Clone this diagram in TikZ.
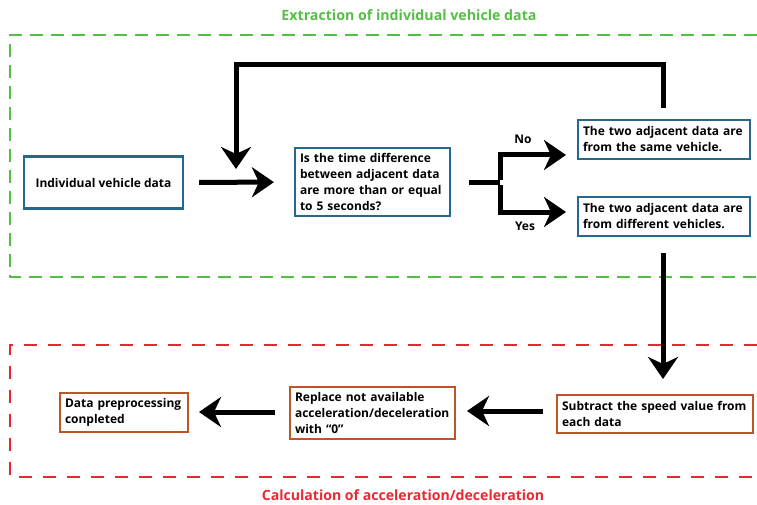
\documentclass[tikz,border=0pt]{standalone}
\usepackage{fontspec}
\setmainfont{Open Sans}
\usetikzlibrary{arrows.meta}
\definecolor{boxblue}{RGB}{35,105,140}
\definecolor{boxorange}{RGB}{190,85,40}
\definecolor{grn}{RGB}{85,190,70}
\definecolor{rd}{RGB}{235,40,50}
\tikzset{
  bbox/.style={draw=boxblue, line width=2.2pt, fill=white, font=\bfseries\fontsize{12}{16}\selectfont, inner sep=5pt},
  obox/.style={draw=boxorange, line width=2.2pt, fill=white, font=\bfseries\fontsize{12}{16}\selectfont, inner sep=5pt},
  arr/.style={line width=5pt, -{Stealth[length=22pt,width=30pt,inset=7pt]}},
  thick line/.style={line width=5pt},
  lbl/.style={font=\bfseries\fontsize{12}{14}\selectfont},
}
\begin{document}
\begin{tikzpicture}[x=1pt,y=-1pt]
\useasboundingbox (0,0) rectangle (757,505);
% groups
\draw[grn, line width=1.5pt, dash pattern=on 13pt off 8pt] (757,35) -- (10,35) -- (10,277) -- (757,277);
\draw[rd, line width=1.3pt, dash pattern=on 13pt off 11pt] (757,345) -- (10,345) -- (10,477) -- (757,477);
\node[grn, font=\bfseries\fontsize{14.2}{16}\selectfont] (t1) at (409,15) {Extraction of individual vehicle data};
\node[rd, font=\bfseries\fontsize{14.1}{16}\selectfont] (t2) at (403,495) {Calculation of acceleration/deceleration};
% boxes
\node[bbox, minimum width=159pt, minimum height=52pt] (A) at (103.5,182.5) {Individual vehicle data};
\node[bbox, minimum width=155pt, minimum height=66pt, text width=145pt, align=left] (B) at (372.5,182) {Is the time difference\\between adjacent data\\are more than or equal\\to 5 seconds?};
\node[bbox, minimum width=172pt, minimum height=39pt, text width=162pt, align=left] (C) at (664,139.5) {The two adjacent data are\\from the same vehicle.};
\node[bbox, minimum width=172pt, minimum height=39pt, text width=162pt, align=left] (D) at (664,216.5) {The two adjacent data are\\from different vehicles.};
\node[obox, minimum width=196pt, minimum height=38pt, text width=186pt, align=left] (E) at (655,414) {Subtract the speed value from\\each data};
\node[obox, minimum width=165pt, minimum height=50pt, text width=155pt, align=left] (F) at (372.5,413) {Replace not available\\acceleration/deceleration\\with “0”};
\node[obox, minimum width=128pt, minimum height=39pt, text width=118pt, align=left] (G) at (124,412.5) {Data preprocessing\\conpleted};
% labels
\node[lbl] (no) at (523,139) {No};
\node[lbl] (yes) at (525,226) {Yes};
% connectors
\draw[arr, shorten <=15pt, shorten >=20pt] (A) -- (B);
\coordinate (fb1) at (663,108);
\coordinate (fb2) at (236,65);
\coordinate (fb3) at (236,169);
\draw[arr] (fb1) |- (fb2) -- (fb3);
\coordinate (br0) at (469,183);
\coordinate (br) at (500,183);
\coordinate (cn) at (566,155);
\coordinate (dn) at (566,212);
\draw[thick line] (br0) -- (br);
\draw[arr] ([yshift=2.5pt]br) |- (cn);
\draw[arr] ([yshift=-2.5pt]br) |- (dn);
\coordinate (d0) at (663,253);
\coordinate (d1) at (663,379);
\draw[arr] (d0) -- (d1);
\coordinate (e0) at (543,411);
\coordinate (f1) at (467,411);
\draw[arr] (e0) -- (f1);
\coordinate (f0) at (275,412);
\coordinate (g1) at (199,412);
\draw[arr] (f0) -- (g1);
\end{tikzpicture}
\end{document}
